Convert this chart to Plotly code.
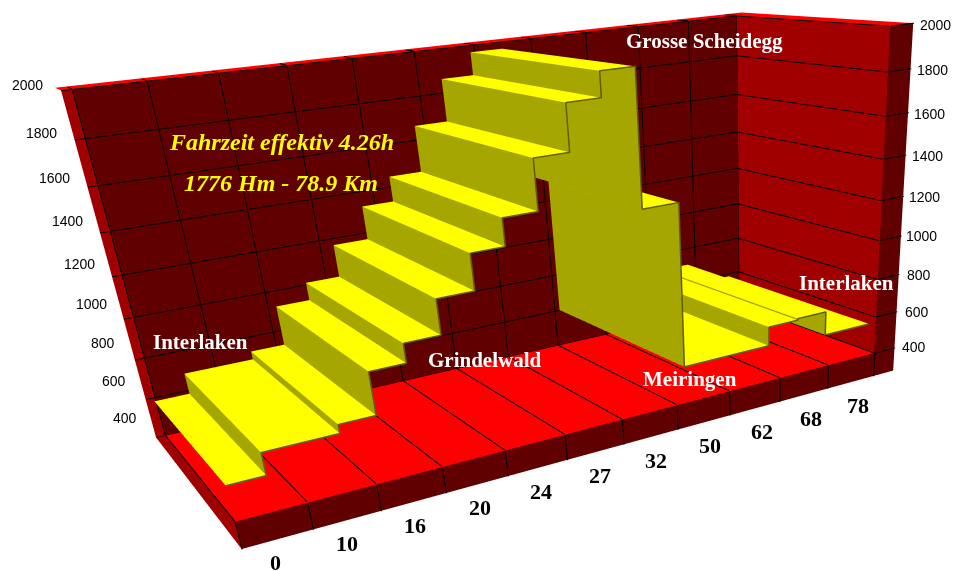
import numpy as np
import plotly.graph_objects as go

W, H = 963, 571
FOCAL = (H / 2) / np.tan(np.pi / 8)

# Axis labels
ELEVATION_TICKS = [400, 600, 800, 1000, 1200, 1400, 1600, 1800, 2000]
KM_LABELS = ['0', '10', '16', '20', '24', '27', '32', '50', '62', '68', '78']

# Route profile: tread boundaries in category cells, and the elevation of each tread
STEP_EDGES = [0.09, 0.65, 1.77, 2.33, 2.89, 3.46, 4.05, 4.59, 5.15, 5.72, 6.28, 6.85, 7.49, 9.16, 9.75, 10.34, 11.3]
STEP_HEIGHTS = [503, 611, 653, 857, 948, 1112, 1279, 1404, 1631, 1836, 1945, 1332, 523, 623, 631, 505]
RIBBON_FRONT, RIBBON_BACK = 0.132, 1.194

# Oblique view of the chart box: (cell, depth, elevation/1000, 1) -> homogeneous pixels
VIEW = np.array([
    [7.71436e+01, -3.87145e+01, -7.29619e+01, 2.55108e+02],
    [-6.17488e+00, -8.15360e+00, -2.53767e+02, 6.03364e+02],
    [2.43119e-02, 1.72288e-01, -9.57941e-02, 1.0],
])
VIEW = VIEW * (2.0 / (VIEW[2] @ np.array([5.5, 0.5, 1.2, 1.0])))


def to_scene(p, push=1.0):
    """Map a chart point to scene units; push slides it back along its sight line."""
    r1, r2, r3 = VIEW @ np.array([p[0], p[1], p[2] / 1000.0, 1.0])
    return ((r1 - W / 2 * r3) / FOCAL * push, r3 * push - 2.0, (H / 2 * r3 - r2) / FOCAL * push)


fig = go.Figure()
LIGHT = dict(ambient=1, diffuse=0, specular=0, fresnel=0, roughness=1)
SHELL = 1.5  # room shell sits behind the ribbon


def quads(faces, color, push=1.0):
    xs, ys, zs, i, j, k = [], [], [], [], [], []
    for face in faces:
        b = len(xs)
        for p in face:
            s = to_scene(p, push)
            xs.append(s[0]); ys.append(s[1]); zs.append(s[2])
        i += [b, b]; j += [b + 1, b + 2]; k += [b + 2, b + 3]
    fig.add_trace(go.Mesh3d(x=xs, y=ys, z=zs, i=i, j=j, k=k, color=color, flatshading=True,
                            lighting=LIGHT, hoverinfo='skip', showscale=False))


def lines(segments, color, width, push=1.0):
    xs, ys, zs = [], [], []
    for seg in segments:
        for p in seg:
            s = to_scene(p, push)
            xs.append(s[0]); ys.append(s[1]); zs.append(s[2])
        xs.append(None); ys.append(None); zs.append(None)
    fig.add_trace(go.Scatter3d(x=xs, y=ys, z=zs, mode='lines', line=dict(color=color, width=width),
                               hoverinfo='skip', showlegend=False))


N = len(KM_LABELS)
LEFT, RIGHT, RIM = 0.14, 0.45, 0.12
ZF, ZT, SLAB = ELEVATION_TICKS[0], ELEVATION_TICKS[-1], 270

# Walls, floor, rim and slab
quads([[(0, 1, ZF), (N, 1, ZF), (N, 1, ZT), (0, 1, ZT)]], '#600000', SHELL)
quads([[(N, 0, ZF), (N, 1, ZF), (N, 1, ZT), (N, 0, ZT)]], '#a00000', SHELL)
quads([[(0, 0, ZF), (N, 0, ZF), (N, 1, ZF), (0, 1, ZF)]], '#ff0000', SHELL)
quads([[(0, 0, SLAB), (N + RIGHT, 0, SLAB), (N + RIGHT, 0, ZF), (0, 0, ZF)],
       [(N, 0, ZF), (N + RIGHT, 0, ZF), (N + RIGHT, 0, ZT), (N, 0, ZT)]], '#600000', SHELL)
quads([[(-LEFT, 1, ZF), (0, 1, ZF), (0, 1, ZT), (-LEFT, 1, ZT)],
       [(-LEFT, 1, ZF), (0, 1, ZF), (0, 0, ZF), (0, 0, SLAB)]], '#a00000', SHELL)
quads([[(-LEFT, 1, ZT), (N + RIGHT, 1, ZT), (N + RIGHT, 1 + RIM, ZT), (-LEFT, 1 + RIM, ZT)],
       [(N, 0, ZT), (N + RIGHT, 0, ZT), (N + RIGHT, 1, ZT), (N, 1, ZT)]], '#ff0000', SHELL)

# Gridlines
d = 0.004
grid = []
for i in range(N + 1):
    grid += [[(i, 1 - d, ZF), (i, 1 - d, ZT)], [(i, 1, ZT + 2), (i, 1 + 0.7 * RIM, ZT + 2)],
             [(i, 0, ZF + 3), (i, 1, ZF + 3)], [(i, -d, SLAB), (i, -d, ZF)]]
for z in ELEVATION_TICKS:
    grid += [[(-LEFT, 1 - d, z), (N, 1 - d, z)], [(N - 0.02, 1, z), (N - 0.02, 0, z)], [(N, -d, z), (N + RIGHT, -d, z)]]
lines(grid, 'black', 2, SHELL)

# Ribbon: treads, risers and the thin front edge
e, h, yf, yb = STEP_EDGES, STEP_HEIGHTS, RIBBON_FRONT, RIBBON_BACK
n = len(h)
quads([[(e[i], yb, h[i]), (e[i + 1], yb, h[i]), (e[i + 1], yf, h[i]), (e[i], yf, h[i])] for i in range(n)], '#ffff00')
quads([[(e[i + 1], yb, h[i]), (e[i + 1], yb, h[i + 1]), (e[i + 1], yf, h[i + 1]), (e[i + 1], yf, h[i])] for i in range(n - 1)], '#a6a600')
edge = []
for i in range(n):
    edge += [(e[i], yf - d, h[i]), (e[i + 1], yf - d, h[i])]
lines([edge], '#5f5f00', 3)

# Tick labels anchored in the scene
tick_labels = []


def tick(p, text, size, family, bold=False, yshift=0):
    s = to_scene(p)
    tick_labels.append(dict(x=s[0], y=s[1], z=s[2], text=f'<b>{text}</b>' if bold else text, showarrow=False,
                            xanchor='center', yanchor='middle', yshift=yshift,
                            font=dict(size=size, family=family, color='black')))


for z in ELEVATION_TICKS:
    tick((-0.45, 1.2, z), str(z), 14, 'Liberation Sans', yshift=10 - (z - 400) * 0.0044)
    tick((11.9, 0, z), str(z), 14, 'Liberation Sans', yshift=-5)
for i, t in enumerate(KM_LABELS):
    tick((i * 1.03 + 0.40, 0, 165 - 4.5 * i), t, 22, 'Liberation Serif', True)


def caption(text, x, y, size, color, italic=False):
    s = f'<b>{text}</b>'
    if italic:
        s = f'<i>{s}</i>'
    return dict(text=s, xref='paper', yref='paper', x=x / W, y=1 - y / H, xanchor='center', yanchor='middle',
                showarrow=False, font=dict(family='Liberation Serif', size=size, color=color))


captions = [caption('Fahrzeit effektiv 4.26h', 281, 142, 24, '#ffff00', True),
            caption('1776 Hm - 78.9 Km', 281, 183, 24, '#ffff00', True),
            caption('Interlaken', 200, 342, 21, 'white'),
            caption('Grindelwald', 485, 360, 21, 'white'),
            caption('Grosse Scheidegg', 704, 41, 21, 'white'),
            caption('Meiringen', 690, 379, 21, 'white'),
            caption('Interlaken', 846, 283, 21, 'white')]

axis = dict(visible=False, showgrid=False, showbackground=False, zeroline=False, showspikes=False, range=[-8, 8])
fig.update_layout(width=W, height=H, margin=dict(l=0, r=0, t=0, b=0), paper_bgcolor='white', showlegend=False,
                  scene=dict(domain=dict(x=[0, 1], y=[0, 1]), xaxis=axis, yaxis=axis, zaxis=axis,
                             aspectmode='manual', aspectratio=dict(x=16, y=16, z=16),
                             camera=dict(eye=dict(x=0, y=-2, z=0), center=dict(x=0, y=0, z=0), up=dict(x=0, y=0, z=1),
                                         projection=dict(type='perspective')),
                             annotations=tick_labels),
                  annotations=captions)
fig.write_html("out.html")
